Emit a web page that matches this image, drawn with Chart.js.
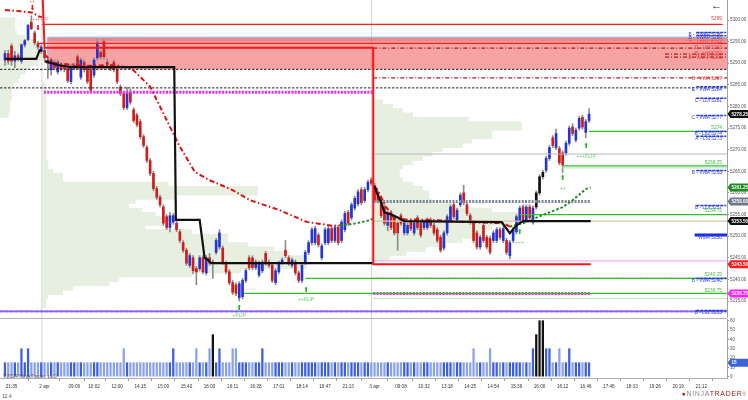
<!DOCTYPE html>
<html>
<head>
<meta charset="utf-8">
<script src="https://cdn.jsdelivr.net/npm/chart.js@4.4.1/dist/chart.umd.min.js"></script>
<style>
  html, body { margin: 0; padding: 0; background: #fff; }
  #wrap { position: relative; width: 748px; height: 400px; overflow: hidden; font-family: "Liberation Sans", Arial, sans-serif; }
  #priceChart { position: absolute; left: 0; top: 0; }
  #volChart { position: absolute; left: 0; top: 318px; }
  #sep { position: absolute; left: 0; top: 318px; width: 727px; border-top: 1px solid #b5b5b5; }
  .note { position: absolute; color: #555; font-size: 5px; white-space: nowrap; }
</style>
</head>
<body>
<div id="wrap">
  <canvas id="priceChart" width="748" height="318"></canvas>
  <canvas id="volChart" width="748" height="82"></canvas>
  <div id="sep"></div>
  <div class="note" style="left:3px; top:373px;">©2024 NinjaTrader, LLC</div>
  <div class="note" style="left:2px; top:393px;">12.4</div>
  <div style="position:absolute; left:711px; top:-1px; font-size:11px; color:#222;">←</div>
  <div style="position:absolute; right:1px; top:390px; font-size:7px; letter-spacing:0.7px; white-space:nowrap;">
    <span style="color:#c62828;">●</span><span style="color:#8a8a8a;">NINJA</span><span style="color:#a51c1c;">TRADER</span><span style="color:#888; font-size:5px;">®</span>
  </div>
</div>
<script>
Chart.defaults.font.family = '"Liberation Sans", Arial, sans-serif';

// candles, one per bar slot (3 sessions: 0-11, 12-111, 112-177)
const opens = [
  5290.75, 5292.25, 5294.0, 5290.5, 5291.75, 5290.5, 5294.25, 5295.5, 5299.5, 5297.0, 5294.5, 5292.75,
  5293.0, 5290.75, 5288.5, 5290.25, 5288.0, 5289.5, 5289.0, 5288.75, 5285.75, 5289.0,
  5291.5, 5286.75, 5290.25, 5289.0, 5288.5, 5287.25, 5291.25, 5292.5, 5295.0, 5290.25,
  5289.25, 5290.25, 5288.5, 5284.5, 5283.0, 5279.75, 5283.25, 5279.25, 5278.0, 5276.5,
  5273.0, 5270.5, 5267.5, 5264.5, 5261.0, 5259.0, 5256.75, 5254.5, 5252.0, 5253.25,
  5253.0, 5251.0, 5248.5, 5246.75, 5243.25, 5245.0, 5242.5, 5242.5, 5245.0, 5241.5,
  5245.0, 5244.0, 5246.25, 5247.5, 5247.25, 5243.75, 5241.75, 5239.25, 5238.75, 5235.75,
  5236.0, 5239.75, 5245.0, 5245.0, 5242.75, 5241.0, 5242.0, 5246.0, 5244.0, 5243.25,
  5239.25, 5241.75, 5244.0, 5246.75, 5245.0, 5243.25, 5244.0, 5241.5, 5239.75, 5244.0,
  5246.25, 5248.5, 5248.5, 5250.25, 5245.0, 5248.5, 5248.5, 5251.75, 5249.0, 5252.0,
  5249.0, 5251.5, 5255.5, 5254.25, 5256.5, 5257.5, 5260.75, 5258.25, 5260.75, 5263.0,
  5261.75, 5260.0, 5258.25, 5256.75, 5252.5, 5255.5, 5254.5, 5253.0, 5254.75, 5250.75,
  5250.75, 5253.25, 5250.75, 5254.25, 5253.0, 5252.0, 5252.0, 5253.75, 5252.5, 5251.5,
  5249.75, 5247.25, 5250.75, 5253.75, 5257.25, 5253.75, 5257.25, 5260.0, 5257.25, 5254.75,
  5253.0, 5250.75, 5247.5, 5252.5, 5249.75, 5249.5, 5249.0, 5249.0, 5251.5, 5249.0,
  5249.0, 5245.5, 5249.0, 5251.0, 5253.25, 5256.75, 5253.75, 5256.75, 5253.25, 5256.75,
  5260.0, 5263.75, 5265.25, 5268.0, 5272.75, 5270.5, 5270.25, 5269.25, 5269.25, 5271.5,
  5275.25, 5272.25, 5275.0, 5277.5, 5274.0, 5276.75
];
const highs = [
  5293.0, 5293.0, 5294.5, 5292.75, 5292.25, 5294.5, 5295.5, 5299.0, 5301.0, 5297.5, 5295.0, 5294.25,
  5293.5, 5291.25, 5291.25, 5290.75, 5290.75, 5290.0, 5289.5, 5289.25, 5289.5, 5290.0,
  5292.0, 5291.25, 5290.75, 5289.5, 5289.0, 5291.25, 5295.5, 5293.0, 5295.5, 5291.0,
  5289.75, 5290.75, 5289.0, 5285.0, 5283.5, 5284.5, 5284.0, 5279.75, 5278.5, 5277.0,
  5273.5, 5271.0, 5268.0, 5265.0, 5261.5, 5259.5, 5257.25, 5255.0, 5255.5, 5255.25,
  5254.0, 5251.5, 5249.0, 5247.25, 5246.0, 5245.5, 5243.0, 5245.5, 5245.5, 5245.5,
  5246.0, 5244.5, 5249.5, 5251.5, 5247.75, 5244.25, 5242.25, 5239.75, 5239.25, 5239.5,
  5240.25, 5242.5, 5245.5, 5245.5, 5244.5, 5244.25, 5244.5, 5246.5, 5244.5, 5243.75,
  5242.5, 5244.25, 5245.0, 5249.0, 5245.5, 5245.0, 5244.5, 5242.0, 5243.75, 5246.75,
  5249.0, 5252.0, 5252.25, 5250.75, 5248.25, 5252.0, 5252.25, 5252.25, 5252.5, 5252.5,
  5253.75, 5255.75, 5256.0, 5257.75, 5259.25, 5260.75, 5261.25, 5261.25, 5263.0, 5263.5,
  5262.25, 5260.5, 5258.75, 5257.25, 5255.75, 5256.0, 5255.0, 5253.5, 5255.25, 5253.5,
  5253.0, 5253.75, 5253.5, 5254.75, 5253.5, 5253.75, 5254.25, 5254.25, 5253.0, 5252.0,
  5250.25, 5251.25, 5255.0, 5257.25, 5257.75, 5256.5, 5260.0, 5261.75, 5257.75, 5255.25,
  5253.5, 5251.25, 5250.25, 5253.0, 5250.25, 5250.0, 5251.25, 5252.0, 5252.0, 5252.25,
  5249.5, 5249.0, 5252.0, 5255.0, 5257.0, 5257.25, 5257.25, 5257.25, 5257.0, 5260.5,
  5264.25, 5265.25, 5268.5, 5271.0, 5273.25, 5274.75, 5270.75, 5269.75, 5272.0, 5275.5,
  5276.0, 5275.0, 5277.75, 5278.0, 5277.0, 5279.5
];
const lows = [
  5289.5, 5289.75, 5289.5, 5289.0, 5290.5, 5290.0, 5293.75, 5295.25, 5297.75, 5294.25, 5293.25, 5292.25,
  5290.75, 5286.5, 5287.25, 5288.5, 5287.5, 5288.25, 5288.0, 5285.5, 5285.25, 5288.5,
  5288.75, 5286.25, 5288.0, 5285.25, 5283.25, 5286.75, 5290.75, 5291.0, 5291.0, 5289.25,
  5288.25, 5288.0, 5285.25, 5282.5, 5279.25, 5279.25, 5280.5, 5276.25, 5275.25, 5272.5,
  5270.5, 5267.0, 5264.0, 5260.5, 5258.5, 5256.75, 5252.5, 5251.5, 5251.0, 5252.75,
  5251.0, 5248.5, 5246.25, 5243.25, 5242.75, 5241.25, 5238.75, 5242.0, 5241.25, 5241.0,
  5243.25, 5240.25, 5245.75, 5247.0, 5243.5, 5241.25, 5238.75, 5236.5, 5236.25, 5235.0,
  5235.5, 5239.25, 5242.25, 5242.25, 5242.25, 5240.5, 5241.5, 5243.25, 5242.75, 5239.25,
  5238.75, 5241.25, 5243.5, 5245.0, 5243.25, 5242.75, 5241.0, 5239.25, 5239.25, 5243.5,
  5245.75, 5248.0, 5248.0, 5247.5, 5244.5, 5248.0, 5248.0, 5248.5, 5248.5, 5248.0,
  5248.5, 5251.0, 5252.5, 5253.75, 5256.0, 5257.0, 5257.25, 5257.75, 5260.25, 5261.75,
  5257.75, 5257.75, 5254.25, 5252.5, 5251.25, 5251.5, 5250.25, 5246.75, 5252.5, 5250.25,
  5250.25, 5251.25, 5250.25, 5251.5, 5249.75, 5251.5, 5251.5, 5252.0, 5250.25, 5248.5,
  5246.25, 5246.75, 5250.25, 5253.25, 5254.0, 5253.25, 5256.75, 5257.25, 5254.75, 5252.75,
  5248.5, 5247.0, 5247.0, 5248.5, 5247.0, 5245.75, 5248.5, 5248.5, 5249.25, 5248.5,
  5245.75, 5244.75, 5248.5, 5250.5, 5252.75, 5253.25, 5253.25, 5253.75, 5252.75, 5256.25,
  5259.5, 5263.25, 5264.75, 5267.5, 5270.5, 5270.0, 5266.5, 5264.75, 5268.75, 5271.0,
  5273.25, 5271.75, 5274.5, 5274.75, 5272.75, 5276.25
];
const closes = [
  5292.25, 5290.5, 5290.5, 5291.75, 5291.0, 5294.25, 5295.25, 5298.75, 5298.0, 5294.75, 5293.75, 5293.75,
  5291.25, 5290.0, 5290.75, 5289.0, 5290.25, 5288.75, 5288.75, 5286.0, 5289.0, 5289.5,
  5289.0, 5290.75, 5288.5, 5285.75, 5283.75, 5290.75, 5294.75, 5291.5, 5291.5, 5289.75,
  5288.75, 5288.5, 5285.75, 5283.0, 5279.75, 5283.0, 5281.0, 5276.75, 5275.75, 5273.0,
  5271.0, 5267.5, 5264.5, 5261.0, 5259.0, 5257.25, 5253.0, 5252.0, 5254.75, 5254.75,
  5251.5, 5249.0, 5246.75, 5243.75, 5245.5, 5242.0, 5241.75, 5245.0, 5241.75, 5245.0,
  5243.75, 5243.75, 5249.0, 5250.75, 5244.0, 5241.75, 5239.25, 5237.0, 5236.75, 5239.0,
  5239.75, 5242.0, 5242.75, 5242.75, 5244.0, 5243.75, 5244.0, 5243.75, 5243.25, 5239.75,
  5242.0, 5243.75, 5244.5, 5245.5, 5243.75, 5244.5, 5241.5, 5239.75, 5243.25, 5246.25,
  5248.5, 5251.5, 5251.75, 5248.0, 5247.75, 5251.5, 5251.75, 5249.0, 5252.0, 5248.5,
  5253.25, 5255.25, 5253.0, 5257.25, 5258.75, 5260.25, 5257.75, 5260.75, 5262.5, 5262.25,
  5258.25, 5258.25, 5254.75, 5253.0, 5255.25, 5252.0, 5250.75, 5250.75, 5253.0, 5253.0,
  5252.5, 5251.75, 5253.0, 5252.0, 5250.25, 5253.25, 5253.75, 5252.5, 5250.75, 5249.0,
  5246.75, 5250.75, 5254.5, 5256.75, 5254.5, 5256.0, 5259.5, 5257.75, 5255.25, 5253.25,
  5249.0, 5247.5, 5249.75, 5249.0, 5247.5, 5246.25, 5250.75, 5251.5, 5249.75, 5251.75,
  5246.25, 5248.5, 5251.5, 5254.5, 5256.5, 5253.75, 5256.75, 5254.25, 5256.5, 5260.0,
  5263.75, 5264.75, 5268.0, 5270.5, 5271.0, 5273.75, 5267.0, 5266.5, 5271.5, 5275.0,
  5273.75, 5274.5, 5277.25, 5275.25, 5276.5, 5278.25
];
const volumes = [
  15, 15, 15, 15, 15, 30, 15, 30, 15, 15,
  15, 15, 15, 15, 15, 15, 15, 15, 15, 15,
  15, 15, 15, 15, 15, 15, 15, 15, 15, 15,
  15, 15, 15, 15, 15, 15, 30, 15, 15, 15,
  15, 15, 15, 15, 15, 15, 15, 15, 15, 15,
  15, 30, 15, 15, 15, 15, 15, 15, 30, 15,
  15, 15, 30, 45, 15, 30, 15, 15, 15, 30,
  30, 15, 15, 15, 15, 15, 15, 15, 30, 15,
  15, 15, 15, 15, 15, 15, 15, 15, 15, 15,
  15, 15, 15, 15, 15, 15, 15, 15, 15, 15,
  15, 15, 15, 15, 15, 15, 15, 15, 15, 15,
  15, 15, 15, 15, 15, 15, 15, 15, 15, 15,
  15, 15, 15, 15, 15, 15, 15, 15, 15, 15,
  15, 15, 15, 15, 15, 15, 15, 15, 15, 15,
  15, 15, 30, 15, 15, 15, 15, 30, 15, 15,
  15, 15, 15, 15, 15, 15, 15, 15, 15, 15,
  30, 45, 60, 60, 30, 30, 15, 15, 30, 15,
  15, 30, 15, 15, 15, 15, 15, 15
];

// x axis time labels and the bar slot they sit on
const tickSlots = [2, 12, 21, 27, 34, 41, 48, 55, 62, 69, 76, 83, 90, 97, 104,
                   112, 120, 127, 134, 141, 148, 155, 162, 169, 176, 183, 190, 197, 204, 211];
const tickLabels = ['21:35', '2 apr', '09:09', '10:02', '12:00', '14:15', '15:09', '15:40', '16:00', '16:11',
                    '16:28', '17:01', '18:14', '19:47', '21:13', '3 apr', '09:08', '10:32', '13:18', '14:25',
                    '14:54', '15:36', '16:00', '16:12', '16:46', '17:48', '18:33', '19:26', '20:19', '21:12'];
const priceTicks = [5300, 5295, 5290, 5285, 5280, 5275, 5270, 5265, 5260, 5255, 5250, 5245, 5240, 5235];
const volTicks = [0, 10, 20, 30, 40, 50, 60];
const sessionStarts = [11.2, 111.1];

// volume profiles per session (price row, width in bar slots)
const profBase = [-1.5, 11.5, 111.5];
const prof1Prices = [5300, 5299, 5298, 5297, 5296, 5295, 5294, 5293, 5292, 5291, 5290, 5289,
                     5288, 5287, 5286, 5285, 5284, 5283, 5282, 5281, 5280, 5279, 5278];
const prof1Widths = [4.5, 4.5, 4.5, 5, 7.5, 10.5, 12, 12.5, 12.5, 12.5, 11.5, 9,
                     7.5, 6, 5.5, 4, 3.5, 3.5, 3.5, 3, 3, 3, 2.5];
const prof2Prices = [5285, 5284, 5283, 5282, 5281, 5280, 5279, 5278, 5277, 5276, 5275, 5274, 5273,
                     5272, 5271, 5270, 5269, 5268, 5267, 5266, 5265, 5264, 5263, 5262, 5261, 5260,
                     5259, 5258, 5257, 5256, 5255, 5254, 5253, 5252, 5251, 5250, 5249, 5248, 5247,
                     5246, 5245, 5244, 5243, 5242, 5241, 5240, 5239, 5238, 5237, 5236, 5235, 5234];
const prof2Widths = [1, 1, 1, 1, 1, 1, 1, 1, 1, 1, 1, 1, 1,
                     1, 1, 1, 1, 1, 1.5, 1.5, 3, 6, 6, 38, 65, 65,
                     40, 28, 26, 30, 34, 40, 36, 31, 45, 56, 56, 62, 70,
                     74, 80, 80, 80, 60, 45, 23, 20, 9, 6, 1.5, 1, 1];
const prof3Prices = [5281, 5280, 5279, 5278, 5277, 5276, 5275, 5274, 5273, 5272, 5271, 5270, 5269,
                     5268, 5267, 5266, 5265, 5264, 5263, 5262, 5261, 5260, 5259, 5258, 5257, 5256,
                     5255, 5254, 5253, 5252, 5251, 5250, 5249, 5248, 5247, 5246, 5245];
const prof3Widths = [3, 6, 9, 12, 29, 45, 45, 36, 36, 30, 27, 21, 18,
                     15, 12, 9, 8, 8, 9, 12, 15, 17, 17, 18, 24, 36,
                     44, 45, 42, 36, 33, 30, 27, 22, 16, 10, 5];

// horizontal levels: price, first slot, last slot, kind
const levelPrices = [5299.0, 5294.6, 5293.5, 5292.1, 5291.4, 5286.6, 5288.6, 5284.3, 5283.3,
                     5274.25, 5269.0, 5266.25, 5265.8, 5255.0, 5253.5, 5244.3, 5240.25, 5240.25,
                     5236.75, 5236.75, 5235.6, 5232.6, 5232.6, 5258.0, 5250.25];
const levelFrom = [11.3, 10.0, 111.6, 200, 200, 111.6, -1.5, -1.5, 11.8,
                   177, 111.6, 169, 169, 156, 111.6, 111.6, 91, 111.6,
                   72.5, 111.6, 111.6, -1.5, -1.5, 111.6, 209];
const levelTo = [217.5, 218.8, 218.8, 218.8, 218.8, 218.8, 218.8, 218.8, 111.6,
                 218.8, 218.8, 218.8, 218.8, 218.8, 218.8, 218.8, 218.8, 218.8,
                 218.8, 177.5, 218.8, 218.8, 218.8, 177.5, 218.8];
const levelKinds = ['red', 'red', 'redDashDot', 'redDashDot', 'redDashDot', 'redDashDot', 'blackDash', 'blackDash', 'magentaDot',
                    'green', 'gray', 'green', 'paleGreen', 'green', 'tan', 'pink', 'green', 'blueDot',
                    'green', 'magentaDot', 'paleGreen', 'violet', 'magentaDash', 'slateDot', 'wma'];

// supply zone
const zoneTop = 5296.0, zoneTopBand = 5295.1, zoneBottom = 5288.6, zoneFrom = 13.0;

// step lines and session vwap (null breaks between sessions)
const redStep = [[11.4, 5306], [12.0, 5293.6], [111.6, 5293.6], [111.6, 5243.5], [177.5, 5243.5]];
const blackStep = [[0, 5291.0], [9.5, 5291.0], [10.5, 5293.0], [11.3, 5293.0], [11.5, null],
                   [12, 5290.5], [16, 5289.6], [20, 5289.1], [51.3, 5289.1], [51.8, 5253.75], [59, 5253.75],
                   [60.5, 5245.0], [61.5, 5244.5], [62.5, 5243.75], [111.3, 5243.75], [111.6, null],
                   [112, 5261.5], [113, 5259.5], [114, 5257.8], [115, 5255.5], [117, 5255.0], [119, 5254.3],
                   [121, 5253.5], [150.5, 5253.25], [153, 5250.7], [155, 5252.5], [157, 5253.5], [177.5, 5253.5]];
const vwapRed = [[0, 5302.3], [5, 5302.0], [8.5, 5301.7], [10, 5300.9], [11.3, 5300.6], [11.6, null],
                 [12, 5292.0], [15, 5290.0], [25, 5289.4], [33.5, 5289.6], [38.5, 5288.7], [44, 5284.6],
                 [50, 5275.3], [53, 5270.7], [57.5, 5264.9], [62, 5262.95], [69, 5260.65], [74.3, 5258.3],
                 [83.3, 5256.0], [91.4, 5253.3], [99.4, 5252.4], [101.5, 5252.5], [102, null],
                 [112, 5261.6], [113, 5260.6], [115.5, 5256.7], [118, 5254.2], [121, 5253.9], [131, 5253.7],
                 [139, 5253.3], [151, 5253.0], [153, 5252.2]];
const vwapGreen = [[101.5, 5252.5], [106, 5252.9], [110, 5253.6], [111.3, 5254.0], [112, null],
                   [153, 5252.2], [157, 5253.0], [163, 5254.9], [169, 5256.7], [172, 5258.3], [176, 5260.9], [177.5, 5261.25]];

// right side level labels
const labelTexts = ['5299', 'B - VWAP 5296', 'B - VWAP 5295', 'D - LPOC 5294', 'D - LHI 5293', 'B - LHI 5292',
                    'B - VWAP 5291', 'B - VWA 5287', 'E - VWA 5284', 'C - LDI 5281', 'C - VWA 5277', '5274',
                    'B - L02 5274', 'A - LSI 5273', '5266.25', 'B - VWA 5265', 'B - LDI 5257', '5254.75',
                    'WMA 5250', '5240.25', 'B - VWA 5240', '5236.75', 'B - L01 5233'];
const labelPrices = [5300.2, 5296.5, 5295.8, 5294.7, 5293.5, 5292.1, 5291.4, 5286.4, 5284.0, 5281.3, 5277.3, 5275.0,
                     5273.6, 5272.5, 5266.9, 5264.6, 5256.5, 5255.8, 5249.6, 5241.2, 5239.6, 5237.5, 5232.2];
const labelKinds = ['red', 'blue', 'blue', 'red', 'red', 'red', 'red', 'red', 'blue', 'blue', 'blue', 'green',
                    'blue', 'blue', 'green', 'blue', 'blue', 'green', 'blue', 'green', 'blue', 'green', 'blue'];

// signal arrows and flip texts
const sigSlots = [8.3, 8.3, 10.7, 10.0, 71, 71, 91.3, 91.3, 156, 156, 169, 169, 176.1, 176.1];
const sigPrices = [5304.3, 5302.7, 5300.2, 5298.0, 5233.3, 5231.6, 5237.5, 5235.4, 5250.9, 5248.4, 5263.3, 5261.1, 5270.8, 5268.3];
const sigTexts = ['++', '⬇', '++FLIP', '⬇', '⬆', '+FLIP', '⬆', '++FLIP', '⬆', '+++', '⬆', '++', '⬆', '+++FLIP'];
const sigKinds = ['sellText', 'sell', 'sellText', 'sell', 'buy', 'buyText', 'buy', 'buyText', 'buy', 'buyText', 'buy', 'buyText', 'buy', 'buyText'];

// price tags on the right axis
const tagPrices = [5278.25, 5261.25, 5258.0, 5253.5, 5243.5, 5236.75];
const tagKinds = ['black', 'green', 'slate', 'black', 'red', 'magenta'];
const volTag = 15;

const X_MIN = -1.5, X_MAX = 218.8;
const P_MIN = 5231.07, P_MAX = 5304.63;

const levelStyles = {
  red:         { color: '#ff1e1e', width: 1.4, dash: [] },
  redDashDot:  { color: '#b01c1c', width: 1.2, dash: [4, 2, 1, 2] },
  blackDash:   { color: '#222222', width: 1, dash: [2.5, 1.5] },
  magentaDot:  { color: '#ff22ff', width: 3, dash: [2, 1.3] },
  green:       { color: '#2fbf2f', width: 1.3, dash: [] },
  paleGreen:   { color: '#c4eac4', width: 1.3, dash: [] },
  gray:        { color: '#b4b9bf', width: 1, dash: [] },
  tan:         { color: '#d9c9a6', width: 1.2, dash: [] },
  pink:        { color: '#ffb0ee', width: 1.2, dash: [] },
  slateDot:    { color: '#7b8597', width: 3, dash: [2, 1.3] },
  blueDot:     { color: '#8896b8', width: 1.4, dash: [1.5, 1.5] },
  violet:      { color: '#7b68f0', width: 1.6, dash: [] },
  magentaDash: { color: '#f23cf0', width: 1.6, dash: [3, 2] },
  wma:         { color: '#1428e6', width: 3, dash: [] }
};
const textColors = { red: '#ea3b3b', blue: '#2a3ce0', green: '#45b845',
                     sell: '#e01515', sellText: '#f08a8a', buy: '#25b525', buyText: '#6acd6a' };
const tagColors = { black: '#111111', green: '#1f8a1f', slate: '#6f7789', red: '#ff1a1a', magenta: '#ff22ff' };

const idx = opens.map((_, i) => i);
const bodyColors = idx.map(i => volumes[i] >= 45 ? '#111111' : (closes[i] >= opens[i] ? '#2434d8' : '#d21c1c'));
const volColors = idx.map(i => volumes[i] >= 45 ? '#111111' : (closes[i] >= opens[i] ? '#3b5fe0' : '#8aa2ee'));

function lineSet(points, color, width, dash, order) {
  return {
    type: 'line', data: points, borderColor: color, borderWidth: width, borderDash: dash || [],
    pointRadius: 0, fill: false, tension: 0, order: order, spanGaps: false
  };
}
const toXY = arr => arr.map(p => ({ x: p[0], y: p[1] }));

function profileSet(prices, widths, base) {
  return {
    type: 'bar', indexAxis: 'y', xAxisID: 'xP', yAxisID: 'yP', grouped: false,
    data: prices.map((p, k) => ({ y: p, x: [base, base + widths[k]] })),
    backgroundColor: '#e6efe0', barThickness: 4.4, order: 100
  };
}

function tag(ctx, x0, right, yc, color, text) {
  ctx.fillStyle = color;
  ctx.beginPath();
  ctx.moveTo(x0, yc);
  ctx.lineTo(x0 + 3, yc - 4);
  ctx.lineTo(right, yc - 4);
  ctx.lineTo(right, yc + 4);
  ctx.lineTo(x0 + 3, yc + 4);
  ctx.closePath();
  ctx.fill();
  ctx.fillStyle = '#fff';
  ctx.font = 'bold 4.6px "Liberation Sans", Arial, sans-serif';
  ctx.textAlign = 'left';
  ctx.textBaseline = 'middle';
  ctx.fillText(text, x0 + 4, yc + 0.3);
}

const priceOverlay = {
  id: 'priceOverlay',
  afterDatasetsDraw(chart) {
    const { ctx, chartArea, scales } = chart;
    ctx.save();
    ctx.font = '4.8px "Liberation Sans", Arial, sans-serif';
    ctx.textAlign = 'right';
    ctx.textBaseline = 'middle';
    labelTexts.forEach((t, k) => {
      ctx.fillStyle = textColors[labelKinds[k]];
      ctx.fillText(t, chartArea.right - 5, scales.y.getPixelForValue(labelPrices[k]));
    });
    ctx.textAlign = 'center';
    sigTexts.forEach((t, k) => {
      const arrow = sigKinds[k] === 'buy' || sigKinds[k] === 'sell';
      ctx.font = arrow ? '7px "DejaVu Sans", sans-serif' : '5px "Liberation Sans", Arial, sans-serif';
      ctx.fillStyle = textColors[sigKinds[k]];
      ctx.fillText(t, scales.x.getPixelForValue(sigSlots[k]), scales.y.getPixelForValue(sigPrices[k]));
    });
    ctx.restore();
  },
  afterDraw(chart) {
    const { ctx, chartArea, scales } = chart;
    ctx.save();
    tagPrices.forEach((p, k) => {
      tag(ctx, chartArea.right + 0.5, chart.width, scales.y.getPixelForValue(p), tagColors[tagKinds[k]], p.toFixed(2));
    });
    ctx.restore();
  }
};

const volOverlay = {
  id: 'volOverlay',
  afterDraw(chart) {
    const { ctx, chartArea, scales } = chart;
    ctx.save();
    tag(ctx, chartArea.right + 0.5, chart.width, scales.y.getPixelForValue(volTag), '#3d63d9', String(volTag));
    ctx.restore();
  }
};

// price panel datasets
const priceSets = [];
priceSets.push(profileSet(prof1Prices, prof1Widths, profBase[0]));
priceSets.push(profileSet(prof2Prices, prof2Widths, profBase[1]));
priceSets.push(profileSet(prof3Prices, prof3Widths, profBase[2]));
sessionStarts.forEach(s => priceSets.push(lineSet([{ x: s, y: P_MIN }, { x: s, y: P_MAX }], '#d2d2d2', 1, [], 95)));
priceSets.push(Object.assign(lineSet([{ x: zoneFrom, y: zoneTop }, { x: X_MAX, y: zoneTop }], '#a9b8e8', 1, [], 90),
  { fill: { value: zoneBottom }, backgroundColor: 'rgba(240,72,72,0.5)' }));
priceSets.push(Object.assign(lineSet([{ x: zoneFrom, y: zoneTop }, { x: X_MAX, y: zoneTop }], '#a9b8e8', 1, [], 89),
  { fill: { value: zoneTopBand }, backgroundColor: 'rgba(200,40,40,0.22)' }));
priceSets.push(lineSet([{ x: zoneFrom, y: zoneTop }, { x: zoneFrom, y: zoneBottom }], '#a9b8e8', 1, [], 88));
priceSets.push({
  type: 'bar', grouped: false, order: 30, barThickness: 1, backgroundColor: '#8c8c8c',
  data: idx.map(i => ({ x: i, y: [lows[i], highs[i]] }))
});
priceSets.push({
  type: 'bar', grouped: false, order: 29, barThickness: 2, minBarLength: 1, backgroundColor: bodyColors,
  data: idx.map(i => ({ x: i, y: [opens[i], closes[i]] }))
});
levelPrices.forEach((p, k) => {
  const s = levelStyles[levelKinds[k]];
  priceSets.push(lineSet([{ x: levelFrom[k], y: p }, { x: levelTo[k], y: p }], s.color, s.width, s.dash, 12));
});
labelPrices.forEach((p, k) => {
  if (labelKinds[k] === 'blue') {
    priceSets.push(lineSet([{ x: 209.5, y: p + 0.6 }, { x: 218.6, y: p + 0.6 }], '#2535e0', 1.4, [3, 1], 11));
  }
});
priceSets.push(lineSet(toXY(redStep), '#ff1414', 2, [], 6));
priceSets.push(lineSet(toXY(vwapRed), '#e01010', 2, [5, 2.5, 1.5, 2.5], 5));
priceSets.push(lineSet(toXY(vwapGreen), '#1e8c1e', 2, [2.5, 2], 5));
priceSets.push(lineSet(toXY(blackStep), '#111111', 2.2, [], 4));

new Chart(document.getElementById('priceChart'), {
  type: 'bar',
  data: { datasets: priceSets },
  options: {
    responsive: false,
    animation: false,
    events: [],
    layout: { padding: 0 },
    plugins: { legend: { display: false }, tooltip: { enabled: false } },
    scales: {
      x: { type: 'linear', min: X_MIN, max: X_MAX, offset: false, display: false },
      y: {
        type: 'linear', position: 'right', min: P_MIN, max: P_MAX,
        afterBuildTicks: a => { a.ticks = priceTicks.map(v => ({ value: v })); },
        afterFit: a => { a.width = 21; a.paddingTop = 0; a.paddingBottom = 0; },
        ticks: { font: { size: 4.5 }, color: '#555', padding: 1, callback: v => v.toFixed(2) },
        grid: { drawOnChartArea: false, tickLength: 2, color: '#999' },
        border: { color: '#a0a0a0' }
      },
      xP: { type: 'linear', axis: 'x', min: X_MIN, max: X_MAX, offset: false, display: false },
      yP: { type: 'linear', axis: 'y', min: P_MIN, max: P_MAX, offset: false, display: false }
    }
  },
  plugins: [priceOverlay]
});

// volume panel
const volSets = [{
  type: 'bar', grouped: false, order: 5, barThickness: 1.6, backgroundColor: volColors,
  data: idx.map(i => ({ x: i, y: volumes[i] }))
}];
sessionStarts.forEach(s => volSets.push(lineSet([{ x: s, y: -2 }, { x: s, y: 70 }], '#d2d2d2', 1, [], 20)));

new Chart(document.getElementById('volChart'), {
  type: 'bar',
  data: { datasets: volSets },
  options: {
    responsive: false,
    animation: false,
    events: [],
    layout: { padding: { top: 1, left: 0, right: 0, bottom: 0 } },
    plugins: { legend: { display: false }, tooltip: { enabled: false } },
    scales: {
      x: {
        type: 'linear', min: X_MIN, max: X_MAX, offset: false,
        afterBuildTicks: a => { a.ticks = tickSlots.map(v => ({ value: v })); },
        afterFit: a => { a.height = 22; a.paddingLeft = 0; a.paddingRight = 0; },
        ticks: { autoSkip: false, maxRotation: 0, font: { size: 4.6 }, color: '#333', padding: 3,
                 callback: (v, i) => tickLabels[i] },
        grid: { drawOnChartArea: false, tickLength: 3, color: '#9a9a9a' },
        border: { color: '#b0b0b0' }
      },
      y: {
        type: 'linear', position: 'right', min: -1.4, max: 61.8,
        afterBuildTicks: a => { a.ticks = volTicks.map(v => ({ value: v })); },
        afterFit: a => { a.width = 21; a.paddingTop = 0; a.paddingBottom = 0; },
        ticks: { font: { size: 4.5 }, color: '#555', padding: 1 },
        grid: { drawOnChartArea: false, tickLength: 2, color: '#999' },
        border: { color: '#a0a0a0' }
      }
    }
  },
  plugins: [volOverlay]
});
</script>
</body>
</html>
